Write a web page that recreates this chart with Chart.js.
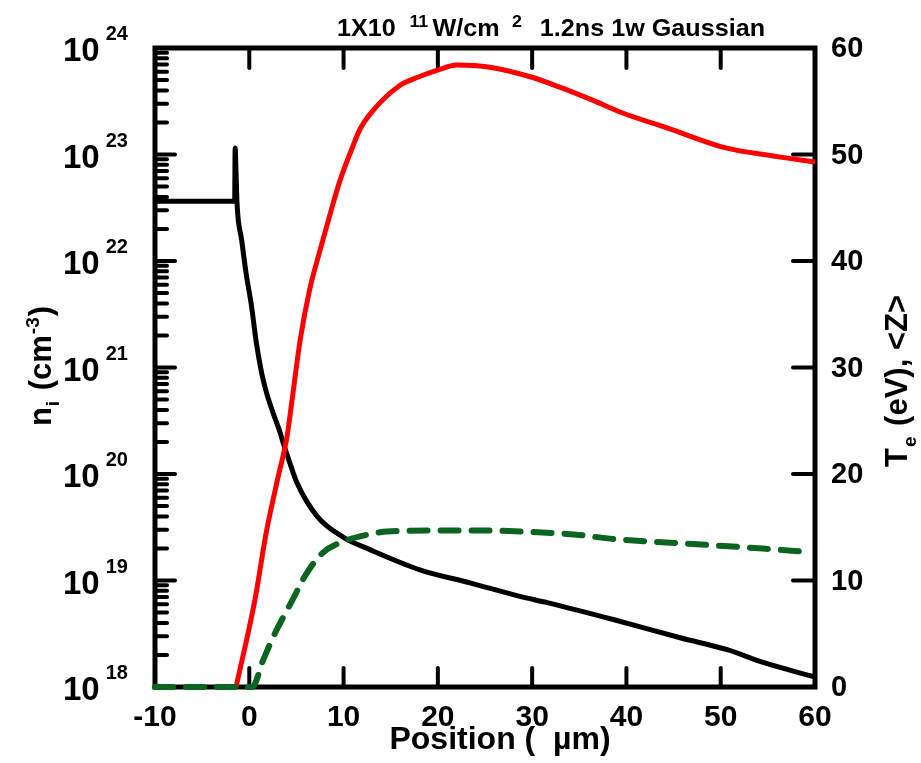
<!DOCTYPE html>
<html><head><meta charset="utf-8">
<script src="https://cdn.jsdelivr.net/npm/chart.js@4.4.0/dist/chart.umd.min.js"></script>
<style>html,body{margin:0;padding:0;background:#fff;} canvas{display:block}</style>
</head><body>
<canvas id="c" width="921" height="763"></canvas>
<script>
// ---- data ----
const xTicks = [-10, 0, 10, 20, 30, 40, 50, 60];
const rightTicks = [0, 10, 20, 30, 40, 50, 60];
const leftTicks = [1e18, 1e19, 1e20, 1e21, 1e22, 1e23, 1e24];
const leftExp = ['18', '19', '20', '21', '22', '23', '24'];

// ion density n_i (cm^-3), left log axis
const blackX = [-10, -1.55, -1.5, -1.4, -1.3, -0.81, -0.35, 0.25, 0.71, 1.31, 1.84, 2.5, 3.3, 3.6, 4.2, 5.05, 7.2, 9.9, 12.8, 18.1, 23.4, 28.7, 31.6, 38.6, 45.7, 50.7, 54.5, 60];
const blackN = [3.63e22, 3.63e22, 1.15e23, 6.6e22, 3.5e22, 1.58e22, 7.8e21, 3.7e21, 1.8e21, 8.9e20, 5.75e20, 3.8e20, 2.4e20, 1.95e20, 1.35e20, 8.3e19, 4.0e19, 2.57e19, 1.95e19, 1.26e19, 9.5e18, 7.1e18, 6.2e18, 4.3e18, 2.9e18, 2.24e18, 1.7e18, 1.24e18];

// electron temperature T_e (eV), right axis
const redX = [-1.4, 0.6, 1.8, 3.0, 4.0, 4.5, 5.4, 6.4, 7.5, 8.6, 9.6, 11, 11.7, 13, 16, 18, 19.9, 22, 25.5, 29.8, 33, 36.4, 39.6, 44.3, 50.2, 56, 60];
const redT = [0, 8.2, 14.5, 19.5, 23.5, 26.7, 32.6, 37.3, 41, 44.5, 47.5, 50.8, 52.3, 54, 56.5, 57.3, 57.9, 58.4, 58.2, 57.3, 56.3, 55.1, 53.9, 52.5, 50.7, 49.8, 49.3];

// average ionization <Z>, right axis
const greenX = [-10, 0.3, 1.5, 2.7, 4.6, 6.1, 7.8, 10.4, 12.5, 14.6, 21.6, 24.5, 28.7, 34.7, 38.6, 45.7, 54.5, 58.9];
const greenZ = [0, 0, 2.6, 5, 8.2, 10.7, 12.6, 13.8, 14.3, 14.6, 14.7, 14.7, 14.6, 14.3, 13.9, 13.5, 13.0, 12.7];

const pts = (xs, ys) => xs.map((x, i) => ({x: x, y: ys[i]}));
const F = '"Liberation Sans", Arial, Helvetica, sans-serif';

function partsWidth(ctx, parts) {
  let w = 0;
  for (const p of parts) { ctx.font = 'bold ' + p.s + 'px ' + F; w += ctx.measureText(p.t).width + (p.g || 0); }
  return w;
}
function drawParts(ctx, parts, x, y) {
  for (const p of parts) {
    ctx.font = 'bold ' + p.s + 'px ' + F;
    x += (p.g || 0);
    ctx.fillText(p.t, x, y + (p.dy || 0));
    x += ctx.measureText(p.t).width;
  }
}
function line(ctx, x1, y1, x2, y2) { ctx.beginPath(); ctx.moveTo(x1, y1); ctx.lineTo(x2, y2); ctx.stroke(); }

const axesPlugin = {
  id: 'axesPlugin',
  beforeDatasetsDraw(chart) {
    const {ctx, chartArea: a, scales} = chart;
    ctx.save();
    ctx.strokeStyle = '#000';
    ctx.lineCap = 'round';
    ctx.lineWidth = 4;
    for (const v of xTicks) {
      const px = scales.x.getPixelForValue(v);
      line(ctx, px, a.bottom, px, a.bottom - 19);
      line(ctx, px, a.top, px, a.top + 20);
    }
    for (const v of rightTicks) {
      const py = scales.y2.getPixelForValue(v);
      line(ctx, a.right, py, a.right - 22, py);
    }
    for (let d = 0; d < leftTicks.length; d++) {
      const py = scales.y.getPixelForValue(leftTicks[d]);
      line(ctx, a.left, py, a.left + 20, py);
      if (d < leftTicks.length - 1) {
        for (let m = 2; m <= 9; m++) {
          const q = scales.y.getPixelForValue(leftTicks[d] * m);
          line(ctx, a.left, q, a.left + 12, q);
        }
      }
    }
    ctx.lineWidth = 5;
    ctx.lineCap = 'square';
    ctx.lineJoin = 'miter';
    ctx.strokeRect(a.left, a.top, a.right - a.left, a.bottom - a.top);
    ctx.restore();
  },
  afterDraw(chart) {
    const {ctx, chartArea: a, scales} = chart;
    ctx.save();
    ctx.fillStyle = '#000';
    ctx.textBaseline = 'alphabetic';
    // x tick labels
    ctx.font = 'bold 30px ' + F;
    ctx.textAlign = 'center';
    for (const v of xTicks) {
      ctx.fillText(String(v), scales.x.getPixelForValue(v), a.bottom + 39);
    }
    // right tick labels
    ctx.font = 'bold 29px ' + F;
    ctx.textAlign = 'left';
    for (const v of rightTicks) {
      ctx.fillText(String(v), a.right + 16, scales.y2.getPixelForValue(v) + 9);
    }
    // left tick labels 10^n
    for (let d = 0; d < leftTicks.length; d++) {
      const py = scales.y.getPixelForValue(leftTicks[d]);
      drawParts(ctx, [{t: '10', s: 33}, {t: leftExp[d], s: 20, dy: -21, g: 6}], 63, py + 13);
    }
    // x axis title
    let parts = [{t: 'Position (  \u00b5m)', s: 32}];
    let w = partsWidth(ctx, parts);
    drawParts(ctx, parts, (a.left + a.right) / 2 - w / 2 + 15, 749);
    // top title
    parts = [{t: '1X10', s: 24}, {t: '11', s: 17, dy: -9, g: 13}, {t: 'W/cm', s: 24, g: 4},
             {t: '2', s: 17, dy: -9, g: 12}, {t: '1.2ns 1w Gaussian', s: 24, g: 17}];
    w = partsWidth(ctx, parts);
    ctx.save();
    ctx.translate(337, 36);
    ctx.scale(428 / w, 1);
    drawParts(ctx, parts, 0, 0);
    ctx.restore();
    // left axis title (rotated)
    ctx.save();
    ctx.translate(51, 0);
    ctx.rotate(-Math.PI / 2);
    parts = [{t: 'n', s: 31}, {t: 'i', s: 19, dy: 8, g: 1}, {t: ' (cm', s: 31, g: 2},
             {t: '-3', s: 19, dy: -12, g: 1}, {t: ')', s: 31, g: 1}];
    w = partsWidth(ctx, parts);
    drawParts(ctx, parts, -366 - w / 2, 0);
    ctx.restore();
    // right axis title (rotated)
    ctx.save();
    ctx.translate(907, 0);
    ctx.rotate(-Math.PI / 2);
    parts = [{t: 'T', s: 31}, {t: 'e', s: 19, dy: 9, g: 1}, {t: ' (eV), <Z>', s: 31, g: 2}];
    w = partsWidth(ctx, parts);
    drawParts(ctx, parts, -381 - w / 2, 0);
    ctx.restore();
    ctx.restore();
  }
};

new Chart(document.getElementById('c'), {
  type: 'line',
  data: {
    datasets: [
      {label: 'ni', data: pts(blackX, blackN), yAxisID: 'y', borderColor: '#000000', borderWidth: 5,
       pointRadius: 0, cubicInterpolationMode: 'monotone', clip: false, order: 2},
      {label: 'Te', data: pts(redX, redT), yAxisID: 'y2', borderColor: '#ff0000', borderWidth: 5,
       pointRadius: 0, cubicInterpolationMode: 'monotone', clip: false, order: 1},
      {label: 'Z', data: pts(greenX, greenZ), yAxisID: 'y2', borderColor: '#0b6420', borderWidth: 6,
       borderDash: [18, 13], borderCapStyle: 'round', pointRadius: 0, cubicInterpolationMode: 'monotone', clip: false, order: 0}
    ]
  },
  options: {
    responsive: false,
    animation: false,
    devicePixelRatio: 1,
    layout: {padding: {left: 155, right: 106, top: 48, bottom: 76}},
    plugins: {legend: {display: false}, tooltip: {enabled: false}, title: {display: false}},
    scales: {
      x: {type: 'linear', min: -10, max: 60, display: false},
      y: {type: 'logarithmic', position: 'left', min: 1e18, max: 1e24, display: false},
      y2: {type: 'linear', position: 'right', min: 0, max: 60, display: false}
    }
  },
  plugins: [axesPlugin]
});
</script>
</body></html>
